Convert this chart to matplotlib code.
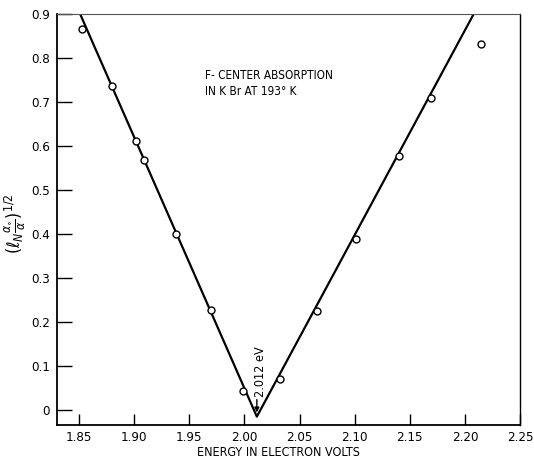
import matplotlib
matplotlib.use("Agg")
import matplotlib.pyplot as plt
import numpy as np

# measured points (energy in eV, (ln a0/a)^1/2)
energy = [1.853, 1.880, 1.9015, 1.9085, 1.938, 1.9695, 1.999,
          2.032, 2.066, 2.101, 2.140, 2.1695, 2.215]
value = [0.865, 0.737, 0.612, 0.568, 0.400, 0.228, 0.044,
         0.071, 0.225, 0.388, 0.577, 0.709, 0.832]

# the two fitted straight lines meeting at 2.012 eV
fit_x = [1.851, 2.0113, 2.208]
fit_y = [0.90, -0.015, 0.90]

xticks = [1.85, 1.90, 1.95, 2.00, 2.05, 2.10, 2.15, 2.20, 2.25]
xlabels = ["1.85", "1.90", "1.95", "2.00", "2.05", "2.10", "2.15", "2.20", "2.25"]
yticks = [0, 0.1, 0.2, 0.3, 0.4, 0.5, 0.6, 0.7, 0.8, 0.9]
ylabels = ["0", "0.1", "0.2", "0.3", "0.4", "0.5", "0.6", "0.7", "0.8", "0.9"]

plt.rcParams['font.family'] = ['DejaVu Sans']
plt.rcParams['font.stretch'] = 'condensed'
plt.rcParams['mathtext.fontset'] = 'dejavusans'

fig = plt.figure(figsize=(5.34, 4.63), dpi=100)
ax = fig.add_axes([0.1067, 0.0821, 0.8671, 0.8877])

ax.plot(fit_x, fit_y, color='black', lw=1.6, zorder=2)
ax.plot(energy, value, 'o', mfc='white', mec='black', ms=5, mew=1.0, zorder=3)

ax.set_xlim(1.83, 2.25)
ax.set_ylim(-0.034, 0.9)
ax.set_xticks(xticks)
ax.set_xticklabels(xlabels, fontsize=9.5)
ax.set_yticks(yticks)
ax.set_yticklabels(ylabels, fontsize=9.5)
ax.tick_params(axis='x', direction='in', length=8, width=1, pad=4)
ax.tick_params(axis='y', direction='in', length=11, width=1, pad=5)

for side in ['left', 'bottom']:
    ax.spines[side].set_linewidth(1.3)
ax.spines['right'].set_linewidth(1.0)
ax.spines['top'].set_linewidth(0.8)
ax.spines['top'].set_color('#555555')

ax.set_xlabel("ENERGY IN ELECTRON VOLTS", fontsize=9)
ax.xaxis.set_label_coords(0.478, -0.052)
ax.set_ylabel(r'$(\ell_{N}\frac{\alpha_{\circ}}{\alpha})^{1/2}$', fontsize=12.5)
ax.yaxis.set_label_coords(-0.063, 0.49)

ax.text(1.964, 0.776, "F- CENTER ABSORPTION\nIN K Br AT 193\u00b0 K",
        fontsize=8.5, va='top', ha='left', linespacing=1.3)

ax.annotate("", xy=(2.0113, -0.012), xytext=(2.0113, 0.030),
            arrowprops=dict(arrowstyle='-|>', color='black', lw=1.0,
                            mutation_scale=7))
ax.text(2.0142, 0.030, "2.012 eV", rotation=90, fontsize=9,
        ha='center', va='bottom')

fig.savefig("out.png", dpi=100)
